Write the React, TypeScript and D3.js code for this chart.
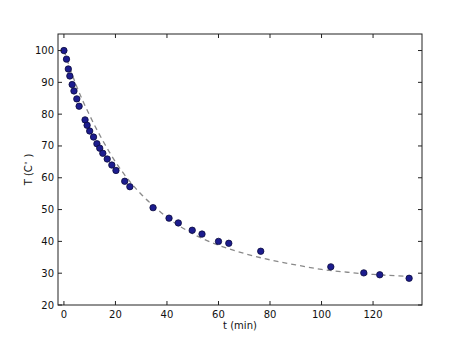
import React from 'react'
import * as d3 from 'd3'

const timeMin = [0, 1, 1.7, 2.3, 3.2, 3.9, 5, 5.9, 8.2, 9, 10, 11.5, 12.8, 13.9, 15.1, 16.8, 18.6, 20.2, 23.6, 25.6, 34.6, 40.8, 44.4, 49.8, 53.6, 60, 64, 76.4, 103.6, 116.4, 122.6, 134]
const tempC = [100, 97.3, 94.2, 92, 89.3, 87.3, 84.8, 82.5, 78.2, 76.5, 74.7, 72.8, 70.7, 69.3, 67.7, 65.9, 64, 62.3, 58.9, 57.2, 50.6, 47.3, 45.8, 43.5, 42.3, 40, 39.4, 36.9, 32, 30.1, 29.5, 28.4]

// dashed fit curve, sampled by eye
const fitTime = [0, 5, 10, 15, 20, 25, 30, 35, 40, 50, 60, 70, 80, 90, 100, 110, 120, 134]
const fitTemp = [100, 88.6, 79.6, 71.8, 65, 59.4, 54.8, 51, 47.6, 42.4, 38.8, 36.2, 34.2, 32.6, 31.2, 30.3, 29.6, 29.0]

const xTicks = [0, 20, 40, 60, 80, 100, 120]
const yTicks = [20, 30, 40, 50, 60, 70, 80, 90, 100]

const W = 469
const H = 340
const margin = { top: 34, right: 47, bottom: 35, left: 58 }

export default function App() {
  const x = d3.scaleLinear().domain([-2.3, 139]).range([margin.left, W - margin.right])
  const y = d3.scaleLinear().domain([20, 105.2]).range([H - margin.bottom, margin.top])
  const x0 = margin.left
  const x1 = W - margin.right
  const y0 = H - margin.bottom
  const y1 = margin.top
  const tick = 4

  const fitLine = d3.line<number>()
    .x((d, i) => x(fitTime[i]))
    .y(d => y(d))
    .curve(d3.curveMonotoneX)

  const font = 'DejaVu Sans, sans-serif'

  return (
    <svg width={W} height={H} style={{ position: 'absolute', left: 0, top: 0, background: '#fff' }} fontFamily={font}>
      <path d={fitLine(fitTemp) || ''} fill="none" stroke="#8a8a8a" strokeWidth={1.3} strokeDasharray="5,4" />
      {timeMin.map((t, i) => (
        <circle key={i} cx={x(t)} cy={y(tempC[i])} r={3.2} fill="#1c1c8e" stroke="#0b0b3c" strokeWidth={0.8} />
      ))}
      <rect x={x0} y={y1} width={x1 - x0} height={y0 - y1} fill="none" stroke="#222" strokeWidth={1} />
      {xTicks.map(t => (
        <g key={'x' + t}>
          <line x1={x(t)} x2={x(t)} y1={y0} y2={y0 - tick} stroke="#222" />
          <line x1={x(t)} x2={x(t)} y1={y1} y2={y1 + tick} stroke="#222" />
          <text x={x(t)} y={y0 + 13} fontSize={10} textAnchor="middle" fill="#111">{t}</text>
        </g>
      ))}
      {yTicks.map(t => (
        <g key={'y' + t}>
          <line x1={x0} x2={x0 + tick} y1={y(t)} y2={y(t)} stroke="#222" />
          <line x1={x1} x2={x1 - tick} y1={y(t)} y2={y(t)} stroke="#222" />
          <text x={x0 - 4} y={y(t)} dy="0.35em" fontSize={10} textAnchor="end" fill="#111">{t}</text>
        </g>
      ))}
      <text x={(x0 + x1) / 2} y={329} fontSize={10} textAnchor="middle" fill="#111">t (min)</text>
      <text transform={`translate(32, ${(y0 + y1) / 2}) rotate(-90)`} fontSize={10} textAnchor="middle" fill="#111">
        T (C<tspan fontSize={7} dy={-4}>∘</tspan><tspan dy={4}> )</tspan>
      </text>
    </svg>
  )
}
